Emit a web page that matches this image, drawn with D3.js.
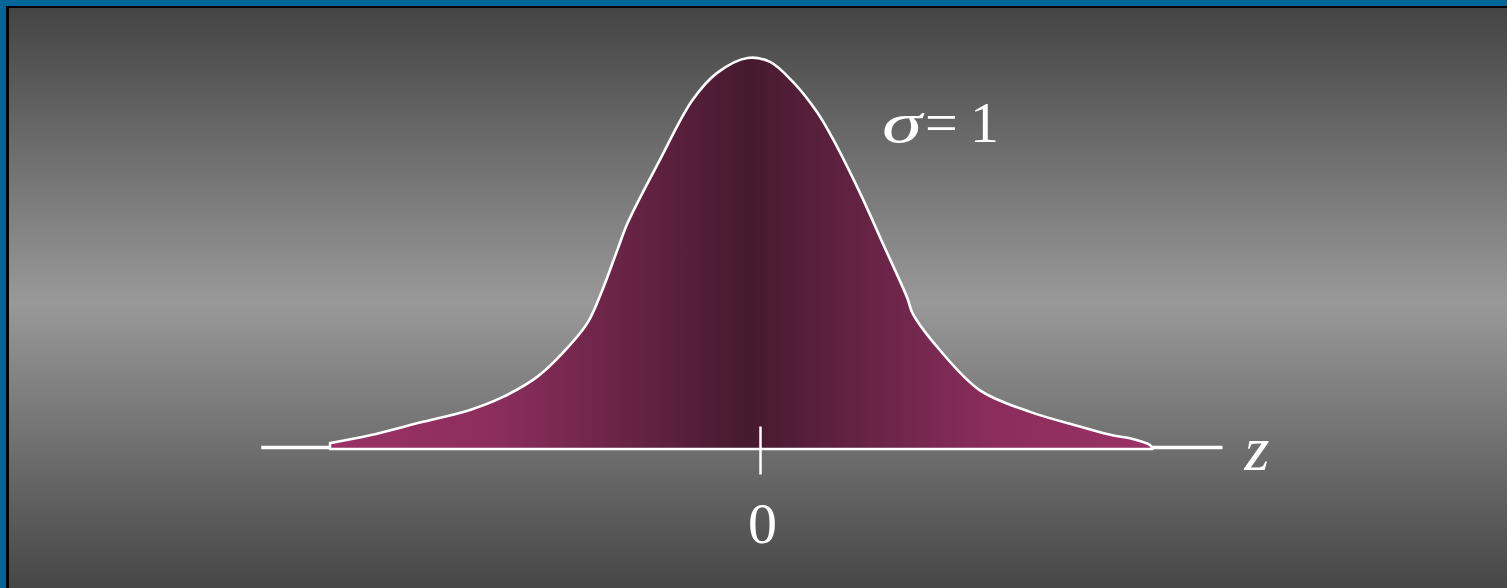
<!DOCTYPE html>
<html>
<head>
<meta charset="utf-8">
<script src="https://cdn.jsdelivr.net/npm/d3@7"></script>
<style>
  html, body { margin: 0; padding: 0; background: #444; overflow: hidden; }
  svg { display: block; }
</style>
</head>
<body>
<svg id="chart" width="1507" height="588"></svg>
<script>
// Standard normal density, traced as (z, density) pairs along the outline
const zValues = [-3.44, -3.12, -2.72, -2.32, -2.06, -1.78, -1.58, -1.38, -1.26, -1.14, -1.06,
  -0.80, -0.54, -0.34, -0.10, 0.08, 0.26, 0.46, 0.58, 0.80, 0.98, 1.18, 1.22, 1.44,
  1.76, 2.16, 2.56, 2.82, 2.96, 3.12];
const densityValues = [0.006, 0.014, 0.027, 0.040, 0.053, 0.074, 0.098, 0.129, 0.163, 0.204, 0.231,
  0.296, 0.357, 0.385, 0.400, 0.396, 0.376, 0.344, 0.318, 0.262, 0.211, 0.154, 0.139, 0.101,
  0.060, 0.038, 0.023, 0.014, 0.011, 0.004];
const curveEnd = 3.14;          // where the right tail meets the axis
const axisExtent = [-3.99, 3.70];
const tickValues = [0];
const sigmaLabel = "1";
const axisLabel = "z";

const W = 1507, H = 588;
const serif = "'Liberation Serif', 'Times New Roman', serif";
const svg = d3.select("#chart");
const defs = svg.append("defs");

// Backdrop: grey vertical gradient, light in the middle
const bg = defs.append("linearGradient").attr("id", "bg")
  .attr("x1", 0).attr("y1", 0).attr("x2", 0).attr("y2", 1);
bg.append("stop").attr("offset", "0%").attr("stop-color", "#444444");
bg.append("stop").attr("offset", "50%").attr("stop-color", "#999999");
bg.append("stop").attr("offset", "100%").attr("stop-color", "#444444");

svg.append("rect").attr("width", W).attr("height", H).attr("fill", "#006699");
svg.append("rect").attr("x", 6).attr("y", 6).attr("width", W).attr("height", H).attr("fill", "#000");
svg.append("rect").attr("x", 9).attr("y", 8).attr("width", W).attr("height", H).attr("fill", "url(#bg)");

// Scales
const x = d3.scaleLinear().domain([-1, 1]).range([760 - 125, 760 + 125]);
const y = d3.scaleLinear().domain([0, 0.4]).range([449, 58]);

// Axis baseline, drawn beneath the density area
svg.append("line")
  .attr("x1", x(axisExtent[0])).attr("x2", x(axisExtent[1]))
  .attr("y1", 447.5).attr("y2", 447.5)
  .attr("stroke", "#fff").attr("stroke-width", 3.5);

// Density area with a magenta-to-plum horizontal gradient
const fillGrad = defs.append("linearGradient").attr("id", "fillGrad")
  .attr("x1", 0).attr("y1", 0).attr("x2", 1).attr("y2", 0);
fillGrad.append("stop").attr("offset", "0%").attr("stop-color", "#9a3266");
fillGrad.append("stop").attr("offset", "20%").attr("stop-color", "#8c2e5d");
fillGrad.append("stop").attr("offset", "51%").attr("stop-color", "#451a2e");
fillGrad.append("stop").attr("offset", "80%").attr("stop-color", "#8a2d5c");
fillGrad.append("stop").attr("offset", "100%").attr("stop-color", "#9a3266");

const pts = zValues.map((z, i) => [z, densityValues[i]]);
pts.push([curveEnd, 0]);

const area = d3.area()
  .x(d => x(d[0]))
  .y0(y(0))
  .y1(d => y(d[1]))
  .curve(d3.curveCatmullRom.alpha(0.5));

svg.append("path")
  .datum(pts)
  .attr("d", area)
  .attr("fill", "url(#fillGrad)")
  .attr("stroke", "#fff")
  .attr("stroke-width", 2.6)
  .attr("stroke-linejoin", "round");

// Single tick at the mean, reaching above and below the axis
const axis = d3.axisBottom(x)
  .tickValues(tickValues)
  .tickSizeInner(27)
  .tickSizeOuter(0)
  .tickFormat(d3.format("d"));

const axisG = svg.append("g")
  .attr("transform", "translate(0,447.5)")
  .call(axis);
axisG.select(".domain").remove();
axisG.selectAll(".tick line")
  .attr("y1", -21).attr("y2", 27)
  .attr("stroke", "#fff").attr("stroke-width", 2.5);
axisG.selectAll(".tick text")
  .attr("y", 95).attr("dy", 0).attr("dx", 2)
  .attr("fill", "#fff")
  .style("font-family", serif)
  .style("font-size", "58px");

// Axis label
svg.append("text")
  .attr("x", x(axisExtent[1]) + 22).attr("y", 470)
  .attr("fill", "#fff")
  .style("font-family", serif)
  .style("font-style", "italic")
  .style("font-size", "64px")
  .text(axisLabel);

// Spread annotation
const sigmaG = svg.append("g").attr("fill", "#fff")
  .style("font-family", serif).style("font-size", "58px");
sigmaG.append("text")
  .attr("x", 882).attr("y", 142)
  .attr("textLength", 40).attr("lengthAdjust", "spacingAndGlyphs")
  .style("font-style", "italic")
  .text("σ");
sigmaG.append("text")
  .attr("x", 925).attr("y", 142)
  .text("=");
sigmaG.append("text")
  .attr("x", 970).attr("y", 142)
  .text(sigmaLabel);
</script>
</body>
</html>
